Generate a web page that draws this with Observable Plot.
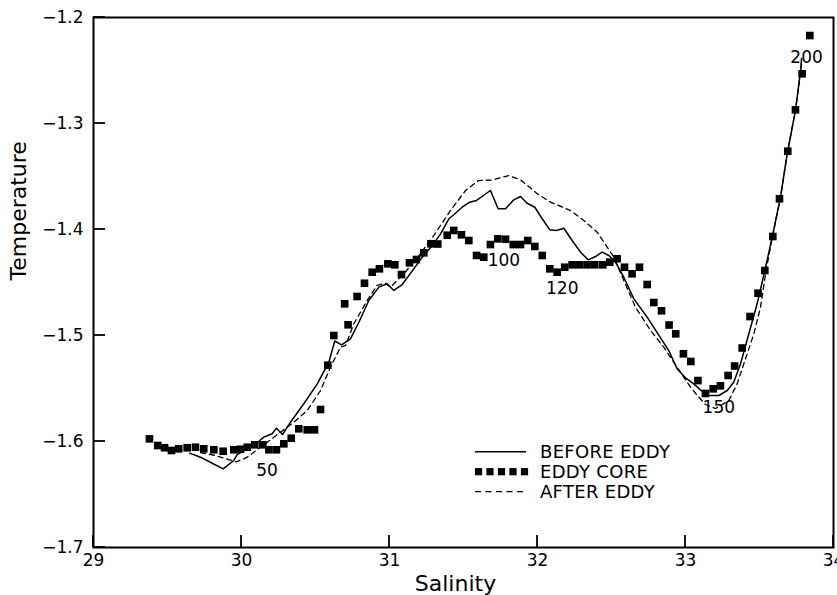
<!DOCTYPE html>
<html>
<head>
<meta charset="utf-8">
<script src="https://cdn.jsdelivr.net/npm/d3@7"></script>
<script src="https://cdn.jsdelivr.net/npm/@observablehq/plot@0.6"></script>
<style>
  body { margin: 0; background: white; }
  #wrap { position: relative; width: 837px; height: 595px; font-family: "DejaVu Sans", sans-serif; }
  #legend { position: absolute; left: 470px; top: 440px; }
</style>
</head>
<body>
<div id="wrap"></div>
<script>
// Salinity / temperature pairs
const beforeS = [29.650,29.723,29.802,29.876,29.948,29.971,30.039,30.105,30.151,30.207,30.236,30.277,30.331,30.421,30.512,30.590,30.630,30.676,30.736,30.793,30.860,30.928,30.984,31.029,31.086,31.164,31.221,31.289,31.345,31.401,31.434,31.491,31.542,31.588,31.682,31.734,31.784,31.840,31.885,31.930,31.982,32.032,32.083,32.128,32.178,32.234,32.291,32.342,32.392,32.437,32.482,32.527,32.583,32.651,32.741,32.887,32.943,33.000,33.056,33.113,33.146,33.225,33.282,33.326,33.372,33.428,33.484,33.536,33.586,33.642,33.687,33.743,33.781,33.784];
const beforeT = [-1.6110,-1.6148,-1.6205,-1.6258,-1.6179,-1.6123,-1.6069,-1.6012,-1.5959,-1.5927,-1.5874,-1.5934,-1.5818,-1.5644,-1.5456,-1.5252,-1.5052,-1.5088,-1.5031,-1.4875,-1.4670,-1.4544,-1.4512,-1.4575,-1.4519,-1.4371,-1.4261,-1.4151,-1.4041,-1.3899,-1.3861,-1.3790,-1.3742,-1.3726,-1.3632,-1.3805,-1.3805,-1.3720,-1.3689,-1.3752,-1.3790,-1.3899,-1.4003,-1.4009,-1.3988,-1.4104,-1.4214,-1.4286,-1.4255,-1.4214,-1.4245,-1.4308,-1.4450,-1.4654,-1.4827,-1.5142,-1.5314,-1.5399,-1.5456,-1.5528,-1.5566,-1.5566,-1.5519,-1.5441,-1.5267,-1.4984,-1.4701,-1.4387,-1.4073,-1.3695,-1.3286,-1.2877,-1.2469,-1.2387];

const coreS = [29.378,29.434,29.480,29.527,29.576,29.633,29.689,29.745,29.813,29.876,29.948,29.993,30.039,30.090,30.144,30.185,30.236,30.286,30.336,30.387,30.444,30.493,30.534,30.583,30.624,30.697,30.720,30.781,30.831,30.883,30.932,30.989,31.036,31.081,31.135,31.182,31.232,31.280,31.326,31.390,31.434,31.486,31.536,31.588,31.637,31.682,31.732,31.784,31.836,31.885,31.934,31.982,32.032,32.083,32.133,32.184,32.234,32.284,32.335,32.387,32.441,32.488,32.538,32.588,32.639,32.689,32.741,32.786,32.838,32.889,32.934,32.986,33.036,33.084,33.135,33.187,33.236,33.288,33.332,33.383,33.436,33.490,33.536,33.590,33.635,33.691,33.743,33.788,33.840];
const coreT = [-1.5975,-1.6038,-1.6059,-1.6085,-1.6069,-1.6059,-1.6054,-1.6069,-1.6078,-1.6092,-1.6078,-1.6073,-1.6054,-1.6031,-1.6031,-1.6078,-1.6078,-1.6022,-1.5969,-1.5880,-1.5890,-1.5890,-1.5698,-1.5280,-1.5000,-1.4701,-1.4899,-1.4632,-1.4507,-1.4403,-1.4371,-1.4324,-1.4333,-1.4425,-1.4314,-1.4283,-1.4220,-1.4135,-1.4137,-1.4054,-1.4009,-1.4050,-1.4104,-1.4245,-1.4261,-1.4142,-1.4088,-1.4092,-1.4142,-1.4142,-1.4104,-1.4160,-1.4245,-1.4371,-1.4403,-1.4356,-1.4333,-1.4333,-1.4333,-1.4333,-1.4333,-1.4308,-1.4276,-1.4356,-1.4418,-1.4356,-1.4519,-1.4689,-1.4767,-1.4901,-1.4984,-1.5173,-1.5245,-1.5425,-1.5547,-1.5503,-1.5475,-1.5377,-1.5288,-1.5118,-1.4821,-1.4601,-1.4387,-1.4066,-1.3710,-1.3261,-1.2871,-1.2531,-1.2170];

const afterS = [29.723,29.824,29.912,29.966,30.039,30.083,30.174,30.264,30.353,30.444,30.534,30.601,30.669,30.703,30.759,30.849,30.916,30.973,31.007,31.097,31.209,31.299,31.412,31.514,31.601,31.694,31.806,31.885,31.998,32.088,32.223,32.313,32.403,32.471,32.516,32.583,32.662,32.764,32.853,32.943,33.034,33.090,33.135,33.203,33.293,33.349,33.394,33.462,33.507,33.541,33.586,33.642,33.687,33.743,33.781,33.784];
const afterT = [-1.6104,-1.6132,-1.6170,-1.6193,-1.6148,-1.6101,-1.6007,-1.5912,-1.5818,-1.5708,-1.5519,-1.5299,-1.5110,-1.5094,-1.4890,-1.4670,-1.4528,-1.4507,-1.4544,-1.4418,-1.4229,-1.4057,-1.3821,-1.3632,-1.3538,-1.3533,-1.3491,-1.3531,-1.3663,-1.3742,-1.3821,-1.3915,-1.4025,-1.4167,-1.4261,-1.4481,-1.4733,-1.4953,-1.5110,-1.5299,-1.5488,-1.5582,-1.5651,-1.5689,-1.5613,-1.5456,-1.5267,-1.4984,-1.4733,-1.4418,-1.4073,-1.3695,-1.3286,-1.2877,-1.2469,-1.2387];

// depth annotations (m)
const depthText = ["50","100","120","150","200"];
const depthS = [30.172,31.773,32.167,33.225,33.818];
const depthT = [-1.6274,-1.4292,-1.4559,-1.5676,-1.2380];

const xTicks = [29,30,31,32,33,34];
const yTicks = [-1.7,-1.6,-1.5,-1.4,-1.3,-1.2];
const seriesNames = ["BEFORE EDDY","EDDY CORE","AFTER EDDY"];
const xTitle = "Salinity";
const yTitle = "Temperature";

const zip = (S, T) => S.map((s, i) => ({s, t: T[i]}));
const before = zip(beforeS, beforeT);
const core = zip(coreS, coreT);
const after = zip(afterS, afterT);
const depths = depthText.map((d, i) => ({label: d, s: depthS[i], t: depthT[i]}));

const fmtY = d3.format(".1f");
const W = 837, H = 595, ML = 93, MT = 17, MR = 4, MB = 48;
const xDom = [29, 34], yDom = [-1.7, -1.2];
const TICK = 12;

const chart = Plot.plot({
  width: W,
  height: H,
  marginLeft: ML,
  marginTop: MT,
  marginRight: MR,
  marginBottom: MB,
  style: {fontFamily: "DejaVu Sans, sans-serif", fontSize: "17px", background: "white", color: "black"},
  x: {domain: xDom},
  y: {domain: yDom},
  marks: [
    Plot.axisX({ticks: xTicks, tickSize: 0, tickPadding: 6, tickFormat: d => String(d), label: null, fontSize: 17}),
    Plot.axisY({ticks: yTicks, tickSize: 0, tickPadding: 10, tickFormat: fmtY, label: null, fontSize: 17}),
    Plot.frame({stroke: "black", strokeWidth: 2}),
    Plot.line(before, {x: "s", y: "t", stroke: "black", strokeWidth: 1.5}),
    Plot.line(after, {x: "s", y: "t", stroke: "black", strokeWidth: 1.3, strokeDasharray: "5,4"}),
    Plot.dot(core, {x: "s", y: "t", symbol: "square", r: 4.3, fill: "black", stroke: "none"}),
    Plot.text(depths, {x: "s", y: "t", text: "label", fontSize: 17, fill: "black"}),
    Plot.text([xTitle], {text: d => d, frameAnchor: "bottom", lineAnchor: "middle", dy: 36, dx: -8, fontSize: 22}),
    Plot.text([yTitle], {text: d => d, frameAnchor: "left", lineAnchor: "middle", rotate: -90, dx: -75, dy: -2, fontSize: 22})
  ]
});

// inward ticks placed with the chart's own x and y scales
const sx = chart.scale("x"), sy = chart.scale("y");
const svg = d3.select(chart.tagName.toLowerCase() === "svg" ? chart : chart.querySelector("svg"));
const tg = svg.append("g").attr("stroke", "black").attr("stroke-width", 1.8);
const yBottom = sy.apply(yDom[0]);
const xLeft = sx.apply(xDom[0]);
xTicks.forEach(v => {
  const x = sx.apply(v);
  tg.append("line").attr("x1", x).attr("x2", x).attr("y1", yBottom).attr("y2", yBottom - TICK);
});
yTicks.forEach(v => {
  const y = sy.apply(v);
  tg.append("line").attr("x1", xLeft).attr("x2", xLeft + TICK).attr("y1", y).attr("y2", y);
});

const wrap = document.getElementById("wrap");
wrap.appendChild(chart);

// legend overlay
const ns = "http://www.w3.org/2000/svg";
const leg = document.createElementNS(ns, "svg");
leg.setAttribute("id", "legend");
leg.setAttribute("width", 230);
leg.setAttribute("height", 66);
const rows = [11.7, 31.7, 51.7];
seriesNames.forEach((name, i) => {
  const y = rows[i];
  if (i === 1) {
    [8.5, 20, 31.5, 43, 54.5].forEach(cx => {
      const r = document.createElementNS(ns, "rect");
      r.setAttribute("x", cx - 3.6); r.setAttribute("y", y - 3.6);
      r.setAttribute("width", 7.2); r.setAttribute("height", 7.2);
      r.setAttribute("fill", "black");
      leg.appendChild(r);
    });
  } else {
    const l = document.createElementNS(ns, "line");
    l.setAttribute("x1", 5); l.setAttribute("x2", 56);
    l.setAttribute("y1", y); l.setAttribute("y2", y);
    l.setAttribute("stroke", "black");
    l.setAttribute("stroke-width", i === 0 ? 1.5 : 1.3);
    if (i === 2) l.setAttribute("stroke-dasharray", "6,4.5");
    leg.appendChild(l);
  }
  const t = document.createElementNS(ns, "text");
  t.setAttribute("x", 70); t.setAttribute("y", y);
  t.setAttribute("dy", "0.36em");
  t.setAttribute("font-size", 18);
  t.setAttribute("letter-spacing", "0.3");
  t.setAttribute("font-family", "DejaVu Sans, sans-serif");
  t.textContent = name;
  leg.appendChild(t);
});
wrap.appendChild(leg);
</script>
</body>
</html>
